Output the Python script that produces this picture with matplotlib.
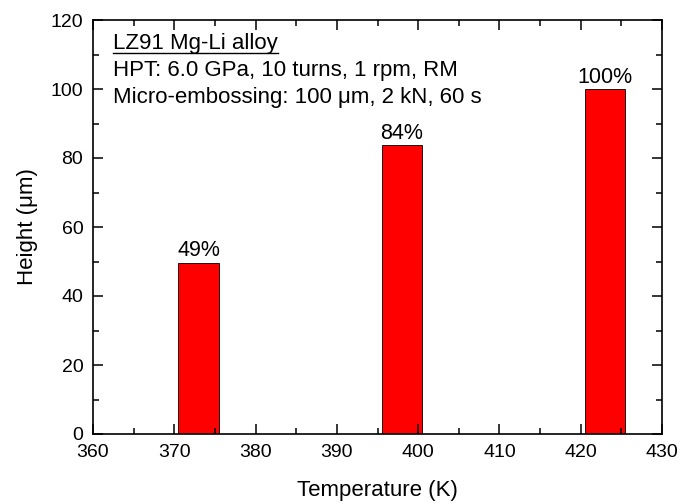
import matplotlib
matplotlib.use("Agg")
import matplotlib.pyplot as plt
from matplotlib.ticker import MultipleLocator
from matplotlib.lines import Line2D

temperatures = [373, 398, 423]
heights = [49.7, 83.8, 100.0]
pct_labels = ["49%", "84%", "100%"]
info_lines = ["LZ91 Mg-Li alloy",
              "HPT: 6.0 GPa, 10 turns, 1 rpm, RM",
              "Micro-embossing: 100 \u03bcm, 2 kN, 60 s"]

plt.rcParams['font.family'] = ['Liberation Sans', 'DejaVu Sans']

fig = plt.figure(figsize=(6.8, 5.04), dpi=100)
ax = fig.add_axes([93/680, 1-434/504, (662-93)/680, (434-20)/504])

bars = ax.bar(temperatures, heights, width=5, color='#ff0000',
              edgecolor='black', linewidth=0.6)
ax.bar_label(bars, labels=pct_labels, padding=1, fontsize=15.5)

ax.set_xlim(360, 430)
ax.set_ylim(0, 120)
ax.xaxis.set_major_locator(MultipleLocator(10))
ax.xaxis.set_minor_locator(MultipleLocator(5))
ax.yaxis.set_major_locator(MultipleLocator(20))
ax.yaxis.set_minor_locator(MultipleLocator(10))
ax.tick_params(which='both', direction='in', top=True, right=True,
               labelsize=14, width=1.1)
ax.tick_params(which='major', length=7)
ax.tick_params(axis='x', which='major', pad=7)
ax.tick_params(axis='y', which='major', pad=7)
ax.tick_params(which='minor', length=4)
for s in ax.spines.values():
    s.set_linewidth(1.2)

ax.set_xlabel("Temperature (K)", fontsize=16, labelpad=14)
ax.set_ylabel("Height (\u03bcm)", fontsize=16, labelpad=9)

ys = [49, 76, 103]
texts = []
for line, yp in zip(info_lines, ys):
    t = fig.text(113/680, 1-yp/504, line, fontsize=16, va='baseline', ha='left')
    texts.append(t)

fig.canvas.draw()
r = fig.canvas.get_renderer()
bb = texts[0].get_window_extent(renderer=r)
uy = (504 - 53) / 504
fig.add_artist(Line2D([bb.x0/680, bb.x1/680], [uy, uy], color='black',
                      linewidth=1.0, transform=fig.transFigure))

fig.savefig("out.png", dpi=100)
